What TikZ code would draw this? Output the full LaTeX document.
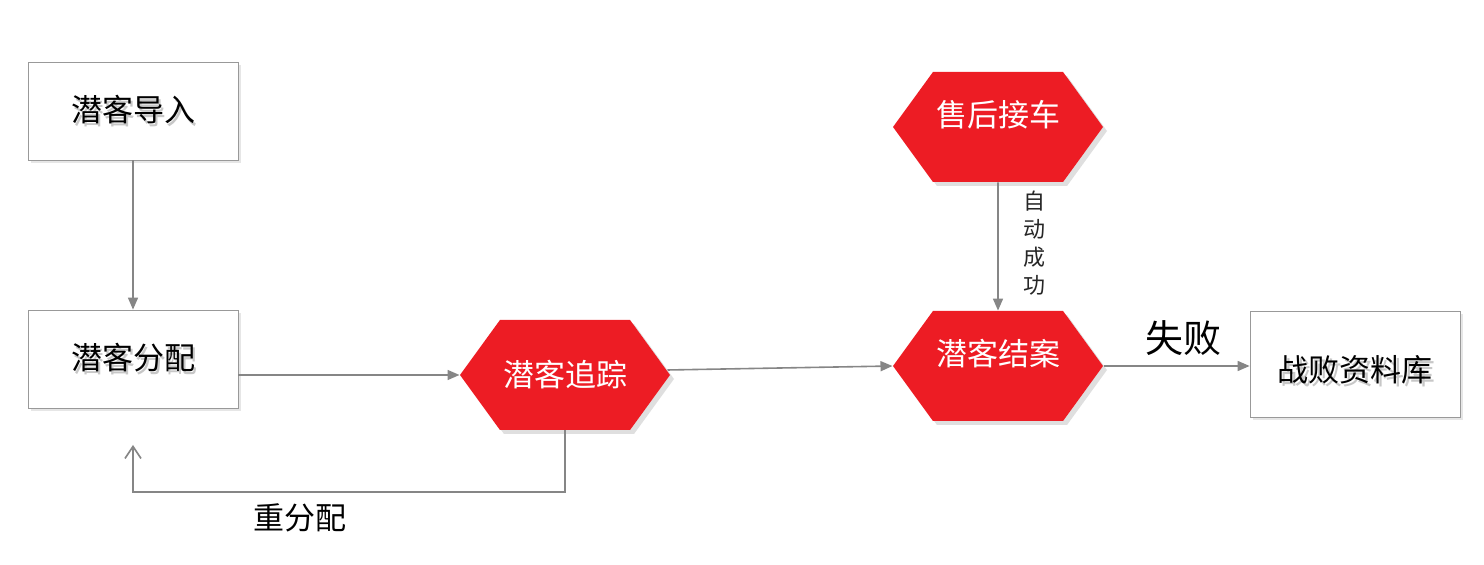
\documentclass[tikz,border=0pt]{standalone}
\usepackage{fontspec}
\setmainfont{Noto Sans CJK SC}
\usepackage{tikz}
\usetikzlibrary{shapes, shapes.symbols, arrows.meta, positioning, shadows}
\definecolor{rojo}{HTML}{ED1C24}
\definecolor{linea}{HTML}{868686}
\newcommand{\sombra}[1]{\makebox[0pt][l]{\hspace{1.3pt}\raisebox{-1.5pt}{\textcolor{black!22}{#1}}}#1}

\tikzset{
  caja/.style={draw=black!40, fill=white, minimum width=105pt, minimum height=49pt,
    font=\fontsize{15.5pt}{17pt}\selectfont,
    drop shadow={shadow xshift=1.5pt, shadow yshift=-1.5pt, opacity=0.2}},
  hexa/.style={signal, signal to=east and west, signal pointer angle=108, fill=rojo,
    text=white, minimum width=105pt, minimum height=55pt, inner sep=0pt,
    font=\fontsize{15.5pt}{17pt}\selectfont,
    drop shadow={shadow xshift=2pt, shadow yshift=-2pt, opacity=0.25}},
  flecha/.style={draw=linea, line width=0.8pt, -{Triangle[length=6pt, width=5pt]}},
}

\begin{document}
\begin{tikzpicture}[x=0.5pt, y=-0.5pt]
    \useasboundingbox (0,0) rectangle (1484,565);
    % Cajas y hexagonos
    \node[caja] (importar) at (133,111) {\sombra{潜客导入}};
    \node[caja] (fenpei) at (133,359) {\sombra{潜客分配}};
    \node[hexa] (zhuizong) at (565,375) {潜客追踪};
    \node[hexa] (shouhou) at (998,127) {\smash{售后接车}};
    \node[hexa] (jiean) at (998,366) {\smash{潜客结案}};
    \node[caja, minimum height=53pt] (zhanbai) at (1355,364) {\raisebox{-9pt}[0pt][0pt]{\sombra{战败资料库}}};
    % Conexiones
    \draw[flecha] (importar) -- (fenpei);
    \draw[flecha] (fenpei.east |- zhuizong.west) -- (zhuizong.west);
    \draw[flecha] (zhuizong.east) ++(-3,-5) -- (jiean.west);
    \draw[flecha] (shouhou) -- (jiean);
    \draw[flecha] (jiean.east) -- (jiean.east -| zhanbai.west);
    % Retorno
    \coordinate (abajo) at (133,492);
    \coordinate (retorno) at (133,445);
    \draw[draw=linea, line width=0.8pt, -{Straight Barb[length=6pt, width=8pt]}]
        (zhuizong.south) |- (abajo) -- (retorno);
    % Etiquetas
    \node[font=\fontsize{15.5pt}{17pt}\selectfont] (reasignar) at (300,518) {重分配};
    \node[font=\fontsize{11pt}{14pt}\selectfont, align=center, text=black!85] (exito) at (1034,243) {自\\动\\成\\功};
    \node[font=\fontsize{19pt}{21pt}\selectfont] (fallo) at (1183,338) {失败};
\end{tikzpicture}
\end{document}
